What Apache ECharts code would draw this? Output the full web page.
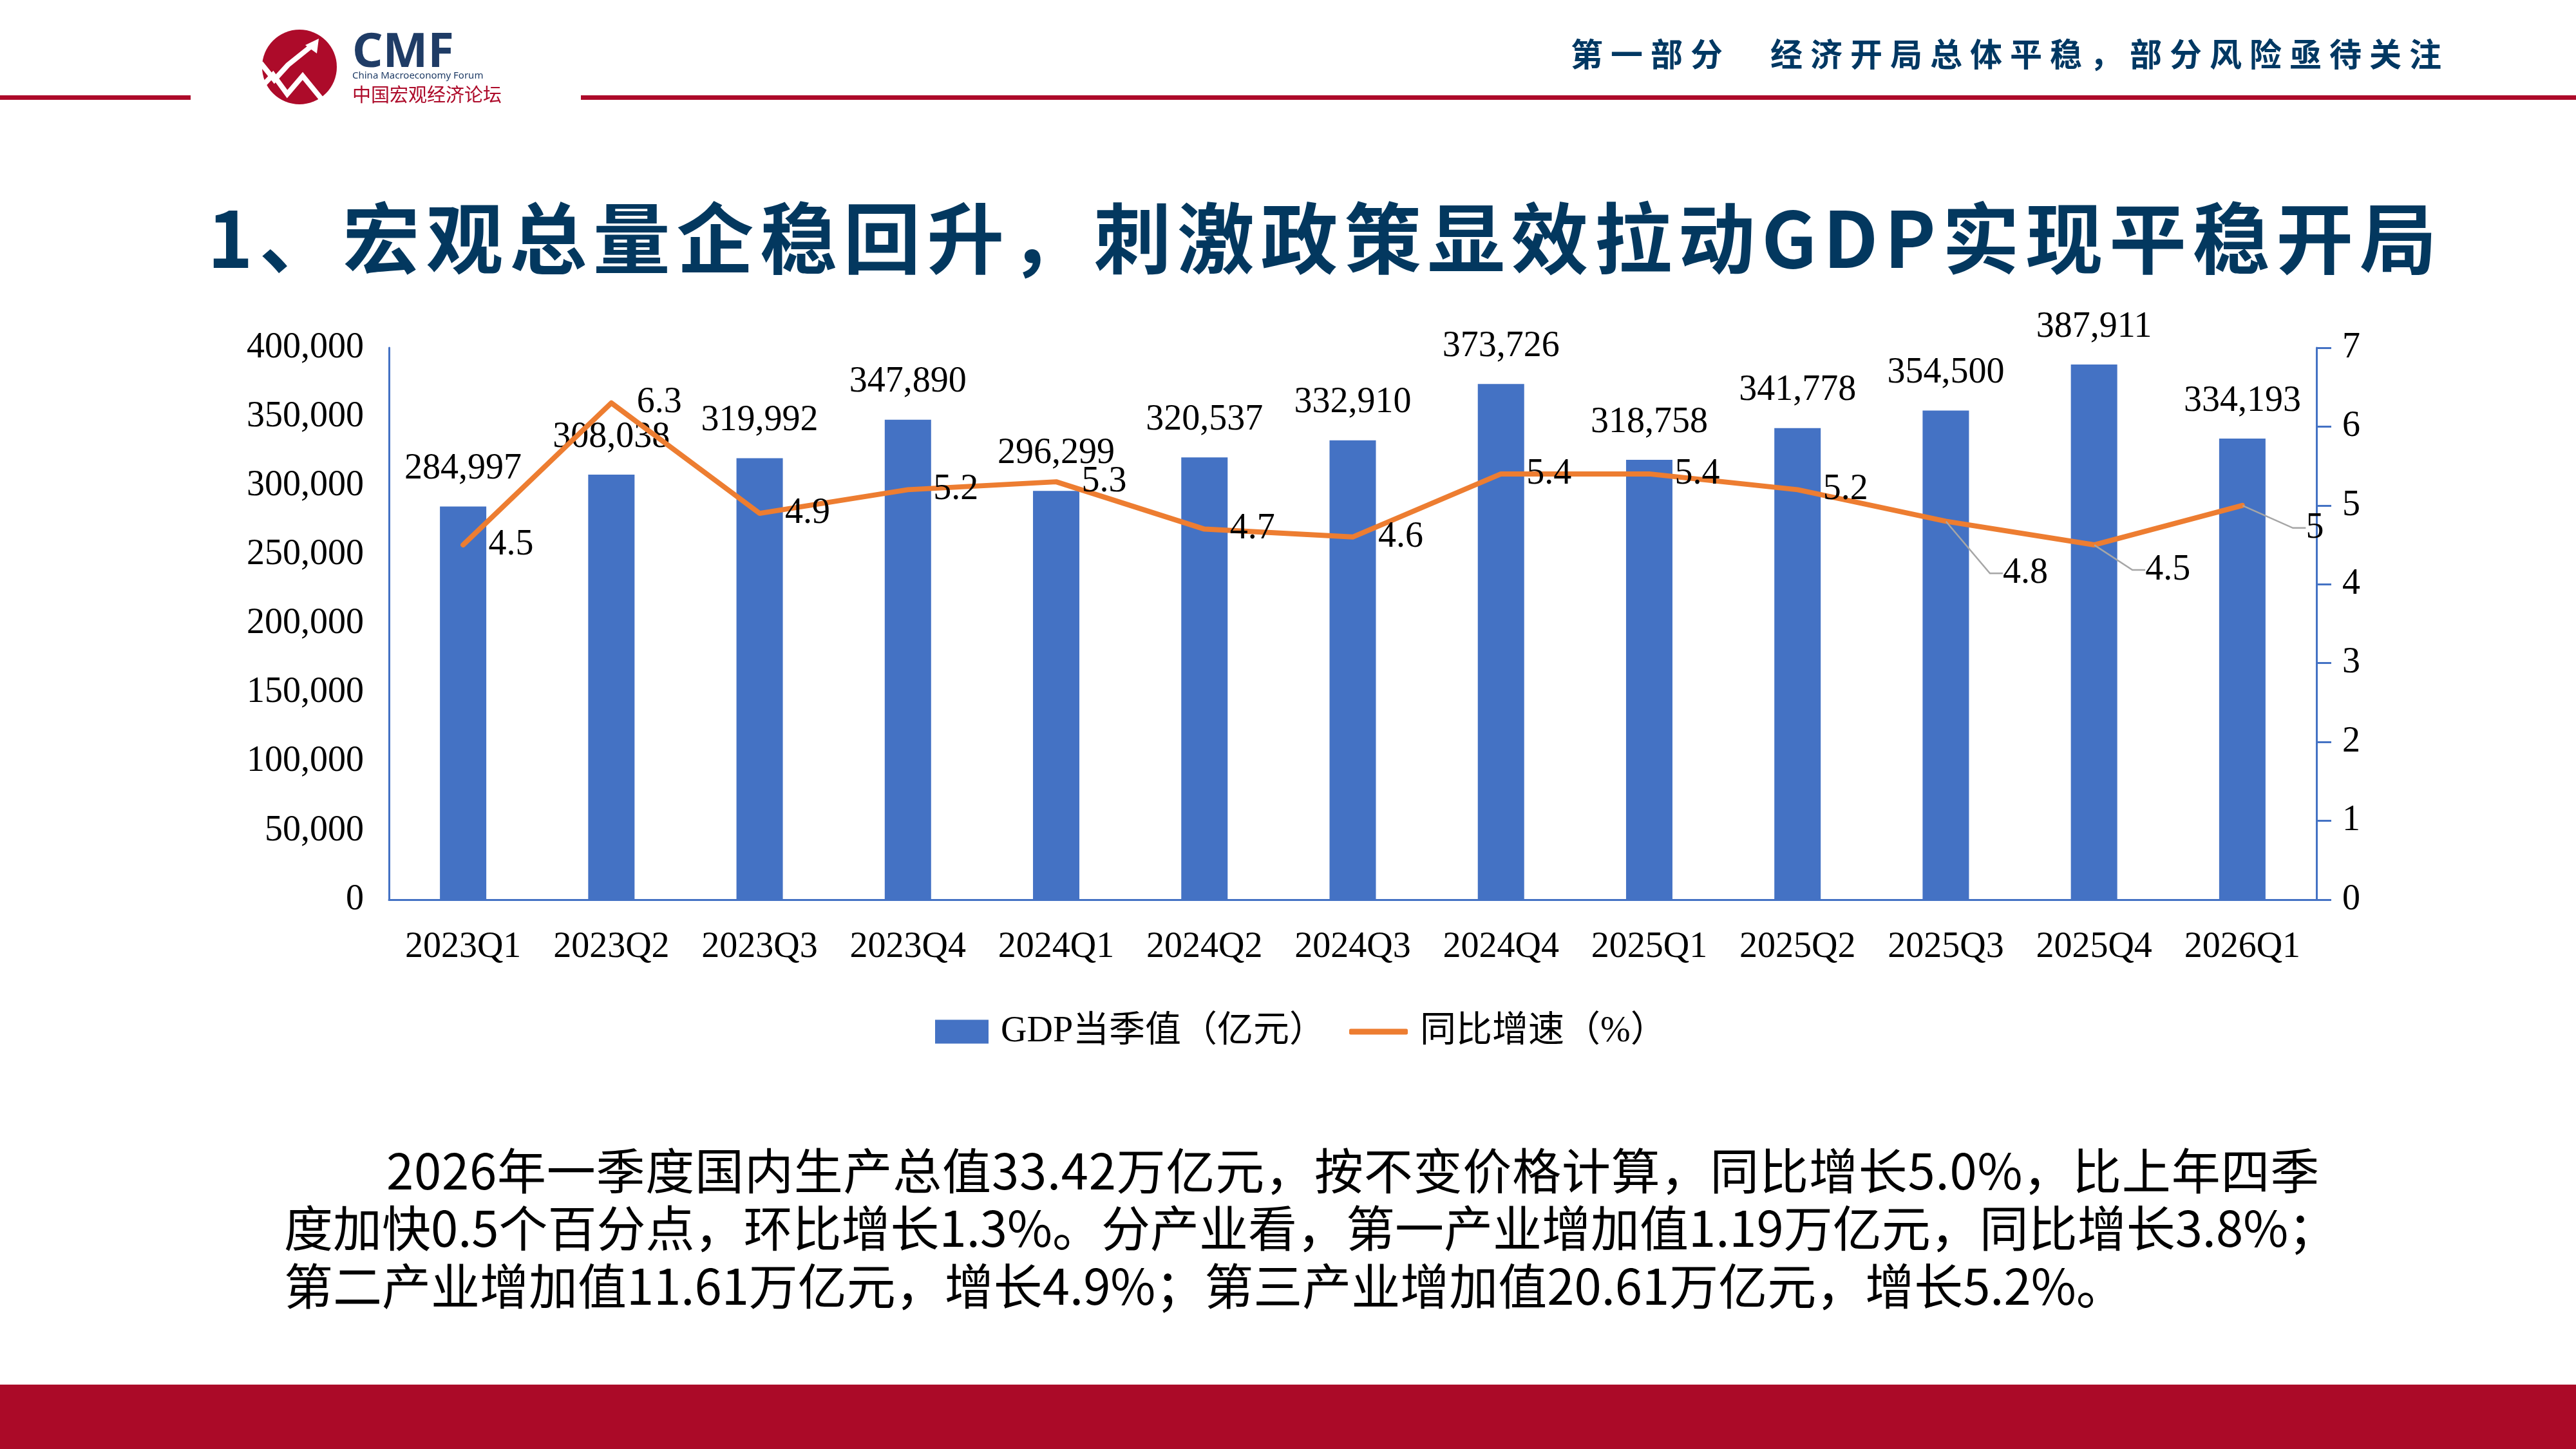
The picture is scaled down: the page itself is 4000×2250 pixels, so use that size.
<!DOCTYPE html>
<html>
<head>
<meta charset="utf-8">
<title>GDP</title>
<script src="https://cdn.jsdelivr.net/npm/echarts@6/dist/echarts.min.js"></script>
<style>
  html, body { margin: 0; padding: 0; background: #fff; }
  #page { position: relative; width: 4000px; height: 2250px; overflow: hidden; background: #fff; }
  #chart { position: absolute; left: 0; top: 0; width: 4000px; height: 2250px; }
  .txt { position: absolute; white-space: nowrap; font-family: 'Noto Sans CJK SC', sans-serif; z-index: 5; }
  .head { left: 2439px; top: 56px; font-size: 50px; line-height: 50px; font-weight: bold; color: #003863; letter-spacing: 12px; }
  .title { left: 322px; top: 304px; font-size: 120px; line-height: 120px; font-weight: bold; color: #03385f; letter-spacing: 9.6px; }
  .body { font-size: 76px; line-height: 76px; color: #000; }
</style>
</head>
<body>
<div id="page">
  <div id="chart"></div>
  <div class="txt head">第一部分　经济开局总体平稳，部分风险亟待关注</div>
  <div class="txt title">1、宏观总量企稳回升，刺激政策显效拉动GDP实现平稳开局</div>
  <div class="txt body" style="left:600px;top:1776px;letter-spacing:0.8px;">2026年一季度国内生产总值33.42万亿元，按不变价格计算，同比增长5.0%，比上年四季</div>
  <div class="txt body" style="left:441px;top:1865px;">度加快0.5个百分点，环比增长1.3%。分产业看，第一产业增加值1.19万亿元，同比增长3.8%；</div>
  <div class="txt body" style="left:441px;top:1955px;">第二产业增加值11.61万亿元，增长4.9%；第三产业增加值20.61万亿元，增长5.2%。</div>
</div>
<script>
// 数据
var quarters = ['2023Q1','2023Q2','2023Q3','2023Q4','2024Q1','2024Q2','2024Q3','2024Q4','2025Q1','2025Q2','2025Q3','2025Q4','2026Q1'];
var gdpValues = [284997, 308038, 319992, 347890, 296299, 320537, 332910, 373726, 318758, 341778, 354500, 387911, 334193];
var growthRates = [4.5, 6.3, 4.9, 5.2, 5.3, 4.7, 4.6, 5.4, 5.4, 5.2, 4.8, 4.5, 5.0];
var barName = 'GDP当季值（亿元）';
var lineName = '同比增速（%）';

var blue = '#4472C4';
var orange = '#ED7D31';
var red = '#AD0B2A';
var serif = "'Liberation Serif', 'Noto Sans CJK SC', serif";

// 带引导线的标签偏移
var leaderShift = { 10: [35, 81], 11: [26, 39], 12: [45, 35] };

var lineData = growthRates.map(function (v, i) {
  if (!leaderShift[i]) return v;
  return {
    value: v,
    label: { padding: [0, 0, 0, 14] },
    labelLine: { show: true, length2: 20, lineStyle: { color: '#A6A6A6', width: 2.5 } }
  };
});

var chart = echarts.init(document.getElementById('chart'), null, { renderer: 'canvas' });

chart.setOption({
  animation: false,
  backgroundColor: '#fff',
  grid: { left: 604, right: 403, top: 540, bottom: 853, containLabel: false },
  legend: [
    {
      data: [barName],
      left: 1447, top: 1567,
      itemWidth: 83, itemHeight: 37, icon: 'rect',
      textStyle: { fontFamily: serif, fontSize: 56, color: '#000', lineHeight: 60, padding: [0, 0, 0, 14] }
    },
    {
      data: [{ name: lineName, icon: 'roundRect' }],
      left: 2090, top: 1567,
      itemWidth: 91, itemHeight: 9,
      textStyle: { fontFamily: serif, fontSize: 56, color: '#000', lineHeight: 60, padding: [0, 0, 0, 14] }
    }
  ],
  xAxis: {
    type: 'category',
    data: quarters,
    axisLine: { lineStyle: { color: blue, width: 3 } },
    axisTick: { show: false },
    axisLabel: { interval: 0, fontFamily: serif, fontSize: 56, color: '#000', margin: 46 }
  },
  yAxis: [
    {
      type: 'value', min: 0, max: 400000, interval: 50000,
      axisLine: { show: true, lineStyle: { color: blue, width: 3 } },
      axisTick: { show: false },
      splitLine: { show: false },
      axisLabel: {
        fontFamily: serif, fontSize: 56, color: '#000', margin: 39,
        formatter: function (v) { return v.toLocaleString('en-US'); }
      }
    },
    {
      type: 'value', min: 0, max: 7, interval: 1, position: 'right',
      axisLine: { show: true, lineStyle: { color: blue, width: 3 } },
      axisTick: { show: true, length: 23, lineStyle: { color: blue, width: 3 } },
      splitLine: { show: false },
      axisLabel: { fontFamily: serif, fontSize: 56, color: '#000', margin: 40 }
    }
  ],
  series: [
    {
      name: barName,
      type: 'bar',
      data: gdpValues,
      barWidth: 72,
      itemStyle: { color: blue },
      label: {
        show: true, position: 'top', distance: 30,
        fontFamily: serif, fontSize: 56, color: '#000',
        formatter: function (p) { return p.value.toLocaleString('en-US'); }
      }
    },
    {
      name: lineName,
      type: 'line',
      yAxisIndex: 1,
      data: lineData,
      symbol: 'circle',
      symbolSize: 1,
      showSymbol: true,
      itemStyle: { color: orange },
      lineStyle: { color: orange, width: 8, cap: 'round', join: 'round' },
      label: {
        show: true, position: 'right', distance: 39,
        fontFamily: serif, fontSize: 56, color: '#000'
      },
      labelLayout: function (p) {
        var s = leaderShift[p.dataIndex];
        return s ? { dx: s[0], dy: s[1] } : {};
      },
      z: 3
    }
  ],
  graphic: [
    { type: 'rect', shape: { x: 0, y: 148, width: 296, height: 7 }, style: { fill: red } },
    { type: 'rect', shape: { x: 902, y: 148, width: 3098, height: 7 }, style: { fill: red } },
    { type: 'rect', shape: { x: 0, y: 2150, width: 4000, height: 100 }, style: { fill: '#AB0A28' } },
    // logo
    { type: 'circle', shape: { cx: 465, cy: 104, r: 58 }, style: { fill: red } },
    { type: 'polyline', shape: { points: [[405, 98], [426, 124], [447, 101], [488, 68]] },
      style: { stroke: '#fff', lineWidth: 8, fill: null } },
    { type: 'polygon', shape: { points: [[474, 70], [495, 60], [492, 83]] }, style: { fill: '#fff' } },
    { type: 'polyline', shape: { points: [[405, 136], [424, 116], [446, 146], [470, 118], [506, 162]] },
      style: { stroke: '#fff', lineWidth: 8, fill: null } },
    { type: 'text', left: 547, top: 46,
      style: { text: 'CMF', fontFamily: "'Noto Sans', sans-serif", fontWeight: 'bold', fontSize: 74, fill: '#1F3C66' } },
    { type: 'text', left: 547, top: 110,
      style: { text: 'China Macroeconomy Forum', fontFamily: "'Noto Sans', sans-serif", fontSize: 15, fill: '#1F3C66' } },
    { type: 'text', left: 547, top: 132,
      style: { text: '中国宏观经济论坛', fontFamily: "'Noto Sans CJK SC', sans-serif", fontSize: 29, fill: red } }
  ]
});
</script>
</body>
</html>
